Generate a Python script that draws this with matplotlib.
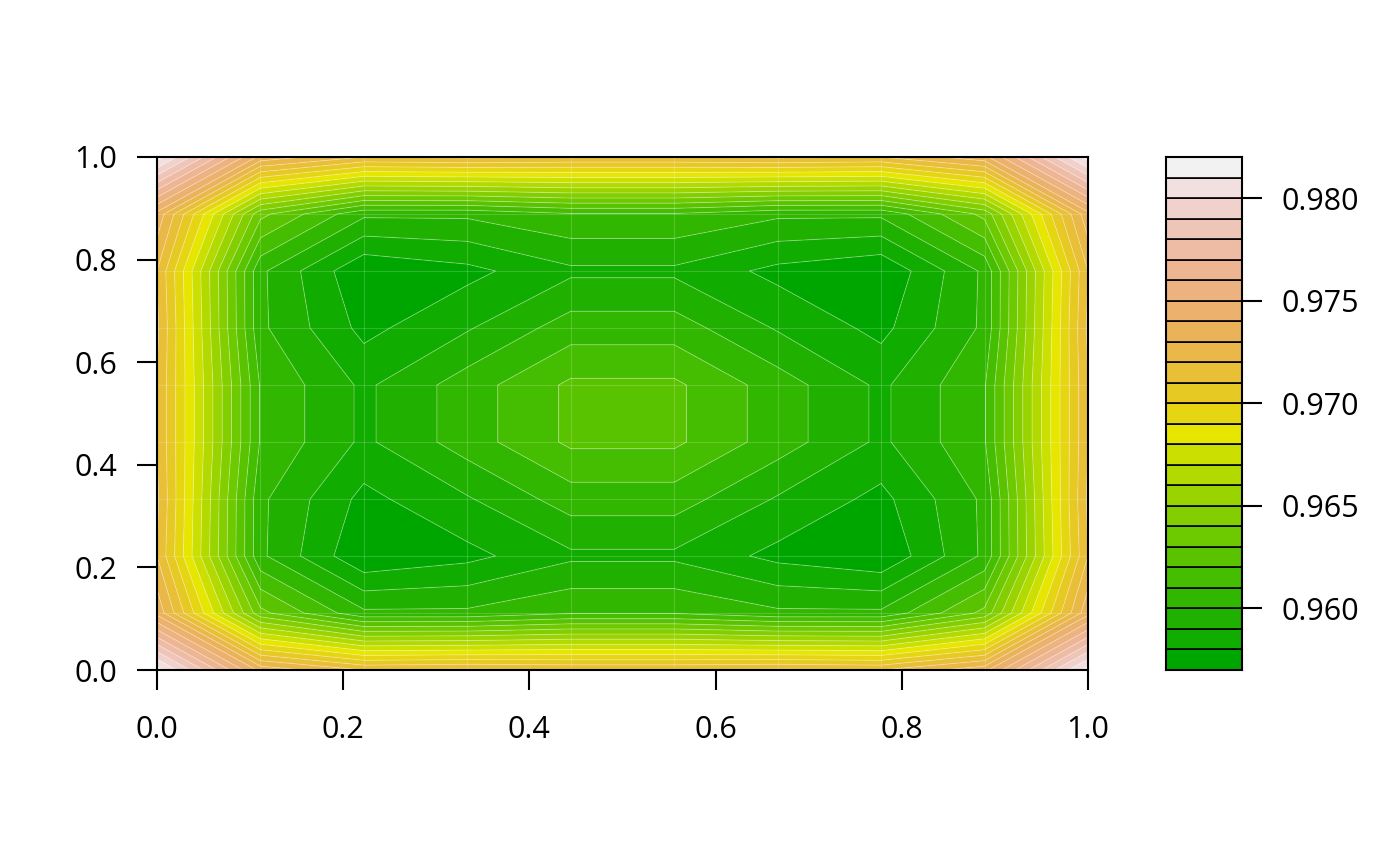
import colorsys
import numpy as np
import matplotlib
matplotlib.use("Agg")
import matplotlib.pyplot as plt

plt.rcParams['font.family'] = ['Open Sans', 'DejaVu Sans']

# ---- data (10 x 10 grid, rows = y from 0 to 1, columns = x from 0 to 1) ----
x_values = np.linspace(0, 1, 10)
y_values = np.linspace(0, 1, 10)
row_y0 = [0.9815, 0.9737, 0.9720, 0.9722, 0.9720, 0.9720, 0.9722, 0.9720, 0.9737, 0.9815]
row_y1 = [0.9737, 0.9633, 0.9602, 0.9602, 0.9609, 0.9609, 0.9602, 0.9602, 0.9633, 0.9737]
row_y2 = [0.9720, 0.9602, 0.9571, 0.9577, 0.9588, 0.9588, 0.9577, 0.9571, 0.9602, 0.9720]
row_y3 = [0.9722, 0.9602, 0.9577, 0.9589, 0.9605, 0.9605, 0.9589, 0.9577, 0.9602, 0.9722]
row_y4 = [0.9720, 0.9609, 0.9588, 0.9605, 0.9622, 0.9622, 0.9605, 0.9588, 0.9609, 0.9720]
row_y5 = [0.9720, 0.9609, 0.9588, 0.9605, 0.9622, 0.9622, 0.9605, 0.9588, 0.9609, 0.9720]
row_y6 = [0.9722, 0.9602, 0.9577, 0.9589, 0.9605, 0.9605, 0.9589, 0.9577, 0.9602, 0.9722]
row_y7 = [0.9720, 0.9602, 0.9571, 0.9577, 0.9588, 0.9588, 0.9577, 0.9571, 0.9602, 0.9720]
row_y8 = [0.9737, 0.9633, 0.9602, 0.9602, 0.9609, 0.9609, 0.9602, 0.9602, 0.9633, 0.9737]
row_y9 = [0.9815, 0.9737, 0.9720, 0.9722, 0.9720, 0.9720, 0.9722, 0.9720, 0.9737, 0.9815]
levels = np.round(np.arange(0.957, 0.98201, 0.001), 3)
axis_ticks = [0.0, 0.2, 0.4, 0.6, 0.8, 1.0]
key_ticks = [0.960, 0.965, 0.970, 0.975, 0.980]

Z = np.array([row_y0, row_y1, row_y2, row_y3, row_y4,
              row_y5, row_y6, row_y7, row_y8, row_y9])


def terrain_colors(n):
    k = n // 2
    h = [4 / 12, 2 / 12, 0.0]
    s = [1.0, 1.0, 0.0]
    v = [0.65, 0.9, 0.95]
    cols = []
    hs = np.linspace(h[0], h[1], k)
    ss = np.linspace(s[0], s[1], k)
    vs = np.linspace(v[0], v[1], k)
    for a, b, c in zip(hs, ss, vs):
        cols.append(colorsys.hsv_to_rgb(a, b, c))
    m = n - k
    hs = np.linspace(h[1], h[2], m + 1)[1:]
    ss = np.linspace(s[1], s[2], m + 1)[1:]
    vs = np.linspace(v[1], v[2], m + 1)[1:]
    for a, b, c in zip(hs, ss, vs):
        cols.append(colorsys.hsv_to_rgb(a, b, c))
    return cols


colors = terrain_colors(len(levels) - 1)

W, H = 1400, 866
fig = plt.figure(figsize=(7, 4.33), dpi=200)

ax = fig.add_axes([157 / W, (H - 670) / H, (1088 - 157) / W, (670 - 157) / H])
ax.contourf(x_values, y_values, Z, levels=levels, colors=colors, antialiased=True)
ax.contour(x_values, y_values, Z, levels=levels, colors='white', linewidths=0.35, alpha=0.3)
for xv in x_values[1:-1]:
    ax.axvline(xv, color='white', lw=0.4, alpha=0.18)
for yv in y_values[1:-1]:
    ax.axhline(yv, color='white', lw=0.4, alpha=0.18)
ax.set_xlim(0, 1)
ax.set_ylim(0, 1)
ax.set_xticks(axis_ticks)
ax.set_yticks(axis_ticks)
ax.set_xticklabels([f"{t:.1f}" for t in axis_ticks])
ax.set_yticklabels([f"{t:.1f}" for t in axis_ticks])
ax.tick_params(direction='out', length=7.2, width=0.75, labelsize=11, pad=7, colors='black')
ax.tick_params(axis='x', pad=9)
for sp in ax.spines.values():
    sp.set_linewidth(0.75)

cax = fig.add_axes([1166 / W, (H - 670) / H, (1242 - 1166) / W, (670 - 157) / H])
cax.bar(0.5, np.diff(levels), bottom=levels[:-1], width=1.0, color=colors,
        edgecolor='black', linewidth=0.6, align='center')
cax.set_xlim(0, 1)
cax.set_ylim(levels[0], levels[-1])
cax.set_xticks([])
cax.yaxis.tick_right()
cax.set_yticks(key_ticks)
cax.set_yticklabels([f"{t:.3f}" for t in key_ticks])
cax.tick_params(axis='y', direction='out', length=7.2, width=0.75, labelsize=11, pad=7)
for sp in cax.spines.values():
    sp.set_linewidth(0.75)

fig.savefig("out.png", dpi=200)
